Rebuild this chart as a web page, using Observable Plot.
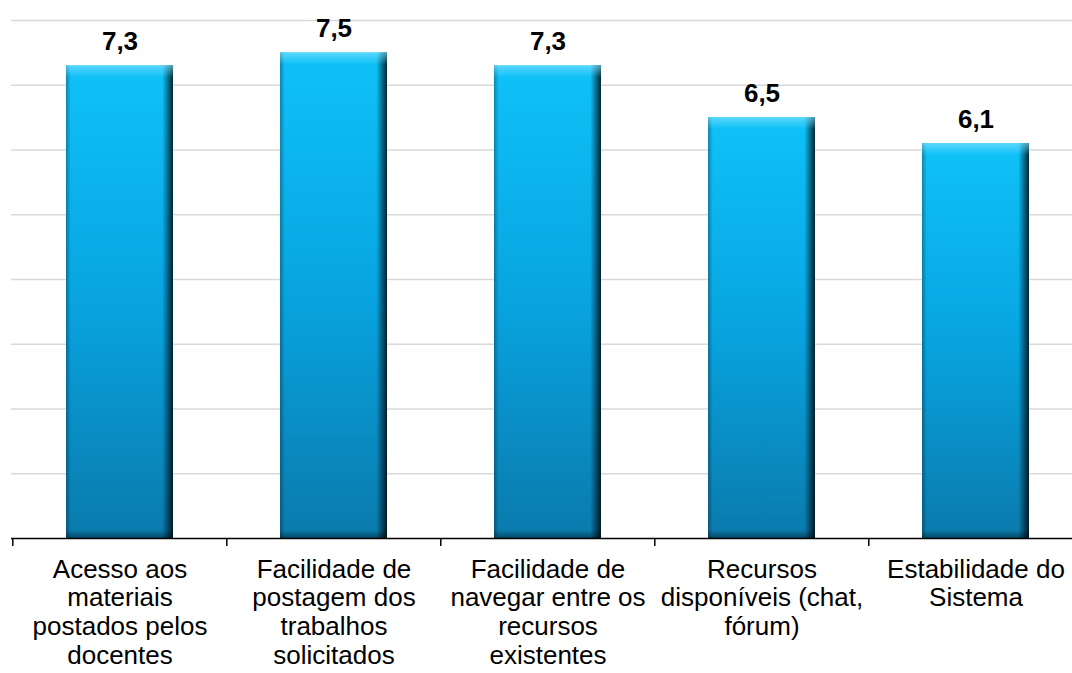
<!DOCTYPE html>
<html>
<head>
<meta charset="utf-8">
<script src="https://cdn.jsdelivr.net/npm/d3@7"></script>
<script src="https://cdn.jsdelivr.net/npm/@observablehq/plot@0.6"></script>
<style>
  html, body { margin: 0; padding: 0; background: white; overflow: hidden; }
  #chart { width: 1072px; height: 673px; overflow: hidden; }
</style>
</head>
<body>
<div id="chart"></div>
<script>
const categories = ["c1", "c2", "c3", "c4", "c5"];
const tickLabels = [
  "Acesso aos\nmateriais\npostados pelos\ndocentes",
  "Facilidade de\npostagem dos\ntrabalhos\nsolicitados",
  "Facilidade de\nnavegar entre os\nrecursos\nexistentes",
  "Recursos\ndisponíveis (chat,\nfórum)",
  "Estabilidade do\nSistema"
];
const values = [7.3, 7.5, 7.3, 6.5, 6.1];
const yTicks = [0, 1, 2, 3, 4, 5, 6, 7, 8];

const data = categories.map((c, i) => ({category: c, value: values[i], label: tickLabels[i]}));
const fmt = v => d3.format(".1f")(v).replace(".", ",");

const xRange = [11, 1083];
const mirror = d3.scaleBand(categories, xRange).paddingInner(0.5).paddingOuter(0.25);
const halfStep = mirror.step() / 2;

const font = "'Liberation Sans', Arial, Helvetica, sans-serif";

const chart = Plot.plot({
  width: 1072,
  height: 673,
  marginTop: 20,
  marginBottom: 135,
  marginLeft: 11,
  marginRight: 0,
  style: {fontFamily: font, background: "white", color: "black", overflow: "hidden"},
  x: {domain: categories, range: xRange, paddingInner: 0.5, paddingOuter: 0.25, axis: null},
  y: {domain: [0, 8], axis: null},
  marks: [
    Plot.ruleY(yTicks.filter(d => d > 0), {stroke: "#d9d9d9", strokeWidth: 1.5}),
    Plot.barY(data, {x: "category", y: "value", fill: "url(#barGrad)"}),
    Plot.barY(data, {x: "category", y: "value", fill: "url(#edgeGrad)"}),
    Plot.barY(data, {x: "category", y1: "value", y2: "value", insetBottom: -12, fill: "url(#topGrad)"}),
    Plot.barY(data, {x: "category", y1: 0, y2: 0, insetTop: -8, fill: "url(#botGrad)"}),
    Plot.ruleY([0], {stroke: "black", strokeWidth: 1.5}),
    Plot.ruleX(categories, {x: d => d, dx: -halfStep, y1: 0, y2: 0, insetBottom: -8, stroke: "black", strokeWidth: 1.5}),
    Plot.text(data, {x: "category", y: "value", text: d => fmt(d.value), dy: -16, lineAnchor: "bottom",
      fontSize: 26, fontWeight: "bold", fill: "black"}),
    Plot.text(data, {x: "category", y: 0, text: "label", lineAnchor: "top", dy: 19,
      fontSize: 26, lineHeight: 1.1, fill: "black"})
  ]
});

const svg = d3.select(chart);
const defs = svg.insert("defs", ":first-child");
const g1 = defs.append("linearGradient").attr("id", "barGrad").attr("x1", 0).attr("y1", 0).attr("x2", 0).attr("y2", 1);
g1.append("stop").attr("offset", 0).attr("stop-color", "#0fc2f8");
g1.append("stop").attr("offset", 0.5).attr("stop-color", "#08a4e0");
g1.append("stop").attr("offset", 1).attr("stop-color", "#0a7aac");
const g2 = defs.append("linearGradient").attr("id", "edgeGrad").attr("x1", 0).attr("y1", 0).attr("x2", 1).attr("y2", 0);
g2.append("stop").attr("offset", 0).attr("stop-color", "#000").attr("stop-opacity", 0.3);
g2.append("stop").attr("offset", 0.045).attr("stop-color", "#000").attr("stop-opacity", 0);
g2.append("stop").attr("offset", 0.9).attr("stop-color", "#000").attr("stop-opacity", 0);
g2.append("stop").attr("offset", 1).attr("stop-color", "#000").attr("stop-opacity", 0.8);
const g3 = defs.append("linearGradient").attr("id", "topGrad").attr("x1", 0).attr("y1", 0).attr("x2", 0).attr("y2", 1);
g3.append("stop").attr("offset", 0).attr("stop-color", "#8ae6ff").attr("stop-opacity", 0.6);
g3.append("stop").attr("offset", 1).attr("stop-color", "#8ae6ff").attr("stop-opacity", 0);
const g4 = defs.append("linearGradient").attr("id", "botGrad").attr("x1", 0).attr("y1", 0).attr("x2", 0).attr("y2", 1);
g4.append("stop").attr("offset", 0).attr("stop-color", "#000").attr("stop-opacity", 0);
g4.append("stop").attr("offset", 1).attr("stop-color", "#000").attr("stop-opacity", 0.4);

document.getElementById("chart").appendChild(chart);
</script>
</body>
</html>
